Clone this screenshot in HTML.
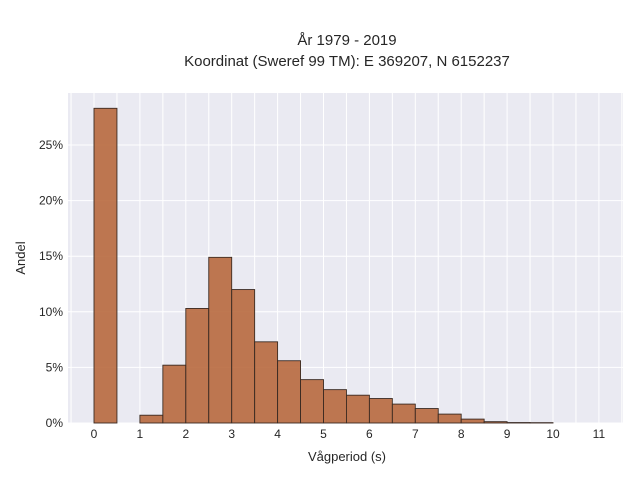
<!DOCTYPE html>
<html><head><meta charset="utf-8"><style>
body{margin:0;background:#fff;font-family:"Liberation Sans",sans-serif}
svg text{font-family:"Liberation Sans",sans-serif;fill:#262626}
</style></head><body>
<svg id="c" width="640" height="480">
<text x="347" y="45" font-size="15" text-anchor="middle">År 1979 - 2019</text>
<text x="347" y="66" font-size="15" text-anchor="middle">Koordinat (Sweref 99 TM): E 369207, N 6152237</text>
<rect x="68" y="93" width="555" height="330" fill="#eaeaf2"/>
<g id="grid"></g><g id="bars"></g><g id="ticks"></g>
<text x="347" y="461" font-size="13" text-anchor="middle">Vågperiod (s)</text>
<text transform="translate(25,258) rotate(-90)" font-size="13" text-anchor="middle">Andel</text>
</svg>
<script>
const binStarts=[0,1,1.5,2,2.5,3,3.5,4,4.5,5,5.5,6,6.5,7,7.5,8,8.5,9,9.5];
const shares=[28.3,0.7,5.2,10.3,14.9,12.0,7.3,5.6,3.9,3.0,2.5,2.2,1.7,1.3,0.8,0.35,0.12,0.04,0.03];
const binWidth=0.5;
const xTicks=[0,1,2,3,4,5,6,7,8,9,10,11];
const yTicks=[0,5,10,15,20,25];
const ns="http://www.w3.org/2000/svg";
const X=v=>94+v*45.9, Y=v=>423-v*11.12;
function mk(t,a,p){const e=document.createElementNS(ns,t);for(const k in a)e.setAttribute(k,a[k]);p.appendChild(e);return e;}
const g=document.getElementById('grid'),b=document.getElementById('bars'),t=document.getElementById('ticks');
for(let v=-0.5;v<=11.5;v+=0.5){const l=mk('line',{x1:X(v),x2:X(v),y1:93,y2:423,stroke:'#fff','stroke-width':1},g);
}
yTicks.forEach(v=>{const l=mk('line',{x1:68,x2:623,y1:Y(v),y2:Y(v),stroke:'#fff','stroke-width':1},g);

const tx=mk('text',{x:63,y:Y(v)+4,'font-size':12,'text-anchor':'end'},t);tx.textContent=v+'%';
});
xTicks.forEach(v=>{const tx=mk('text',{x:X(v),y:438,'font-size':12,'text-anchor':'middle'},t);tx.textContent=v;
});
binStarts.forEach((s,i)=>{const r=mk('rect',{x:X(s),y:Y(shares[i]),width:X(s+binWidth)-X(s),height:Y(0)-Y(shares[i]),fill:'#b8693e','fill-opacity':0.9,stroke:'#3a2a22','stroke-width':0.9},b);
});
</script>
</body></html>
